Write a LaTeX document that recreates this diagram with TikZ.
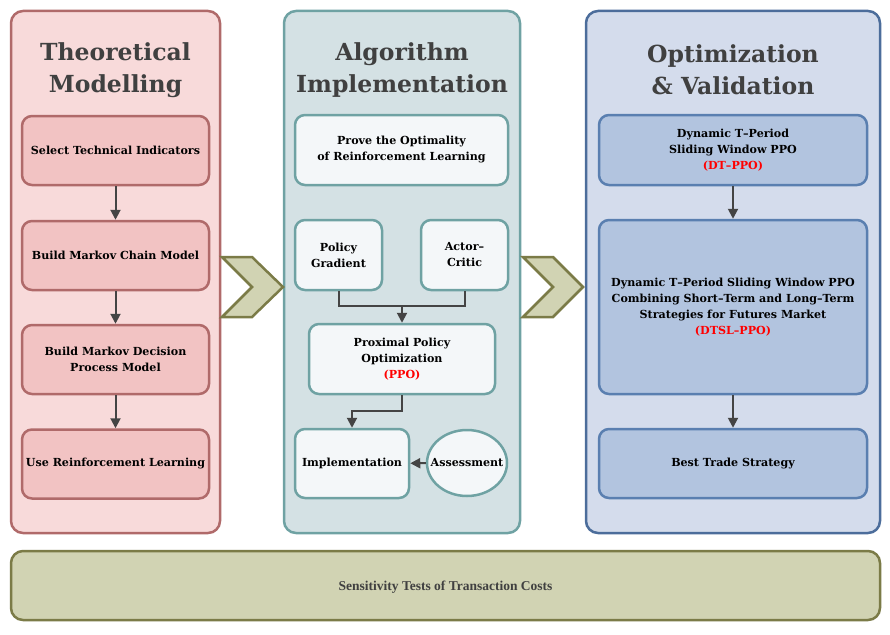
\documentclass[tikz,border=0pt]{standalone}
\usepackage{fontspec}
\setmainfont{DejaVu Serif}
\newfontfamily\narrowserif{Liberation Serif}
\usetikzlibrary{calc,positioning,shapes.geometric,arrows.meta}

\definecolor{pinkpanel}{HTML}{F8DADA}
\definecolor{pinkline}{HTML}{B06A6A}
\definecolor{pinkbox}{HTML}{F2C3C3}
\definecolor{tealpanel}{HTML}{D4E1E4}
\definecolor{tealline}{HTML}{6FA2A3}
\definecolor{lightbox}{HTML}{F4F7F9}
\definecolor{bluepanel}{HTML}{D4DCEC}
\definecolor{blueline}{HTML}{4C6D9B}
\definecolor{bluebox}{HTML}{B2C4DF}
\definecolor{boxline}{HTML}{5A7FB0}
\definecolor{olivefill}{HTML}{D1D3B3}
\definecolor{oliveline}{HTML}{7B7B47}
\definecolor{arrowgray}{HTML}{444444}
\definecolor{titlegray}{HTML}{404040}

\begin{document}
\begin{tikzpicture}[x=1pt,y=-1pt,
  panel/.style={draw,line width=2.5pt,rounded corners=12pt},
  box/.style={draw,line width=2.5pt,rounded corners=10pt,align=center,inner sep=2pt,
    font=\fontsize{11.1}{16}\selectfont\bfseries},
  pinkstep/.style={box,fill=pinkbox,draw=pinkline,minimum width=187pt,minimum height=69pt},
  tealstep/.style={box,fill=lightbox,draw=tealline},
  bluestep/.style={box,fill=bluebox,draw=boxline,minimum width=268pt},
  title/.style={align=center,text=titlegray,font=\fontsize{23.5}{32}\selectfont\bfseries},
  chevron/.style={fill=olivefill,draw=oliveline,line width=2.5pt},
  flow/.style={draw=arrowgray,line width=2pt,-{Triangle[length=10pt,width=10pt]}},
  tag/.style={text=red}]
  \useasboundingbox (0,0) rectangle (890,634);

  % panels
  \draw[panel,fill=pinkpanel,draw=pinkline] (11,11) rectangle (220,533);
  \draw[panel,fill=tealpanel,draw=tealline] (284,11) rectangle (520,533);
  \draw[panel,fill=bluepanel,draw=blueline] (586,11) rectangle (880,533);
  \draw[panel,fill=olivefill,draw=oliveline] (11,551) rectangle (880,620);

  % chevrons
  \draw[chevron] (222,257) -- (252,257) -- (283,287) -- (252,317) -- (222,317) -- (252,287) -- cycle;
  \draw[chevron] (523,257) -- (553,257) -- (583,287) -- (553,317) -- (523,317) -- (553,287) -- cycle;

  % titles
  \node[title] (tm) at (115.5,70) {Theoretical\\Modelling};
  \node[title] (ai) at (402,70) {Algorithm\\Implementation};
  \node[title] (ov) at (733,70) {Optimization\\\& Validation};

  % theoretical modelling
  \node[pinkstep] (sti) at (115.5,150.5) {Select Technical Indicators};
  \node[pinkstep] (mcm) at (115.5,255.5) {Build Markov Chain Model};
  \node[pinkstep] (mdp) at (115.5,359.5) {Build Markov Decision\\Process Model};
  \node[pinkstep] (url) at (115.5,464) {Use Reinforcement Learning};
  \draw[flow] (sti) -- (mcm);
  \draw[flow] (mcm) -- (mdp);
  \draw[flow] (mdp) -- (url);

  % algorithm implementation
  \node[tealstep,minimum width=213pt,minimum height=70pt] (opt) at (401.5,150) {Prove the Optimality\\of Reinforcement Learning};
  \node[tealstep,minimum width=87pt,minimum height=70pt] (pg) at (338.5,255) {Policy\\Gradient};
  \node[tealstep,minimum width=87pt,minimum height=70pt] (ac) at (464.5,255) {Actor--\\Critic};
  \node[tealstep,minimum width=186pt,minimum height=70pt] (ppo) at (402,359) {Proximal Policy\\Optimization\\{\color{red}(PPO)}};
  \node[tealstep,minimum width=114pt,minimum height=69pt,inner sep=1pt] (imp) at (352,463.5) {Implementation};
  \node[ellipse,draw=tealline,fill=lightbox,line width=2.5pt,minimum width=80pt,minimum height=66pt,inner sep=0pt,
    font=\fontsize{11.1}{16}\selectfont\bfseries] (ass) at (467,463) {\makebox[0pt]{Assessment}};
  \coordinate (join) at (402,306);
  \draw[draw=arrowgray,line width=2pt] (pg.south) |- (join) -| (ac.south);
  \draw[flow] (join) -- (ppo.north);
  \draw[flow] (ppo.south) -- ++(0,16) -| (imp.north);
  \draw[flow] (ass) -- (imp);

  % optimization and validation
  \node[bluestep,minimum height=70pt] (dt) at (733,150) {Dynamic T--Period\\Sliding Window PPO\\{\color{red}(DT--PPO)}};
  \node[bluestep,minimum height=174pt] (dtsl) at (733,307) {Dynamic T--Period Sliding Window PPO\\Combining Short--Term and Long--Term\\Strategies for Futures Market\\{\color{red}(DTSL--PPO)}};
  \node[bluestep,minimum height=69pt] (bts) at (733,463.5) {Best Trade Strategy};
  \draw[flow] (dt) -- (dtsl);
  \draw[flow] (dtsl) -- (bts);

  % bottom band
  \node[font=\narrowserif\fontsize{13.5}{16}\selectfont\bfseries,text=titlegray] (stc) at (445.5,587) {Sensitivity Tests of Transaction Costs};
\end{tikzpicture}
\end{document}
